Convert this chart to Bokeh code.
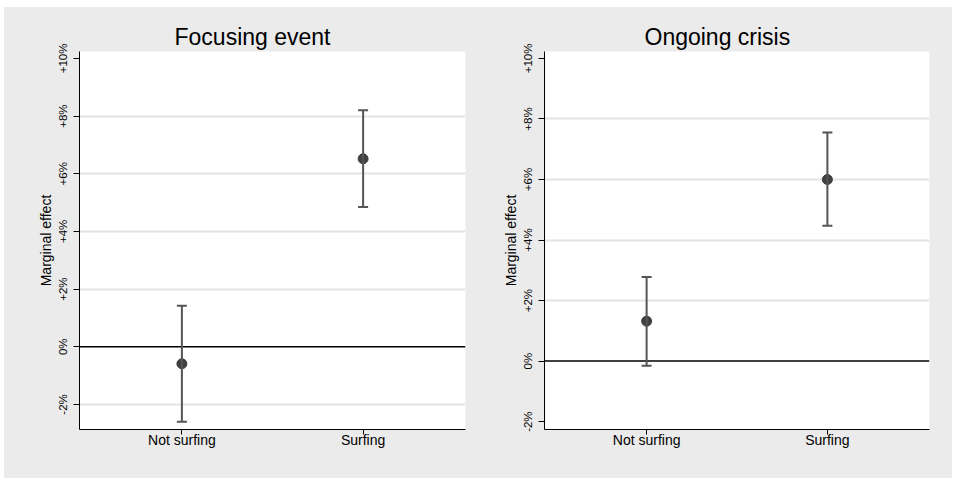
from bokeh.plotting import figure
from bokeh.models import ColumnDataSource, Range1d, FixedTicker, Whisker, TeeHead, Span
from bokeh.layouts import row
from bokeh.embed import file_html
from bokeh.resources import INLINE

categories = ["Not surfing", "Surfing"]

focus_est = [-0.59, 6.52]
focus_low = [-2.60, 4.85]
focus_high = [1.42, 8.20]

crisis_est = [1.32, 6.00]
crisis_low = [-0.15, 4.47]
crisis_high = [2.78, 7.55]

y_ticks = [-2, 0, 2, 4, 6, 8, 10]
y_tick_labels = ["-2%", "0%", "+2%", "+4%", "+6%", "+8%", "+10%"]

FONT = "Liberation Sans"
BAR = "#555555"
DOT = "#404040"
BG = "#ebebeb"


def make_panel(title, est, low, high, y_start, y_end, grid_ticks,
               border_left, frame_w, border_right, title_offset):
    xs = [i + 1 for i in range(len(categories))]
    src = ColumnDataSource(dict(x=xs, y=est, lower=low, upper=high))
    p = figure(frame_width=frame_w, frame_height=378,
               min_border_left=border_left, min_border_right=border_right,
               min_border_top=44, min_border_bottom=49,
               x_range=Range1d(0.435, 2.565), y_range=Range1d(y_start, y_end),
               output_backend="svg", toolbar_location=None,
               border_fill_color=BG, background_fill_color="white",
               outline_line_color=None)
    p.title.text = title
    p.title.align = "left"
    p.title.offset = title_offset
    p.title.text_font = FONT
    p.title.text_font_size = "23px"
    p.title.text_font_style = "normal"
    p.title.text_color = "black"
    p.title.standoff = 4

    # grid
    p.xgrid.visible = False
    p.ygrid.ticker = FixedTicker(ticks=grid_ticks)
    p.ygrid.grid_line_color = "#e4e4e4"
    p.ygrid.grid_line_width = 2

    # y axis
    ya = p.yaxis[0]
    ya.ticker = FixedTicker(ticks=y_ticks)
    ya.major_label_overrides = {t: l for t, l in zip(y_ticks, y_tick_labels)}
    ya.major_label_orientation = "vertical"
    ya.major_label_text_font = FONT
    ya.major_label_text_font_size = "11.5px"
    ya.major_label_text_color = "black"
    ya.major_label_standoff = 4
    ya.major_tick_out = 6
    ya.major_tick_in = 0
    ya.minor_tick_line_color = None
    ya.axis_line_color = "black"
    ya.major_tick_line_color = "black"
    ya.axis_label = "Marginal effect"
    ya.axis_label_text_font = FONT
    ya.axis_label_text_font_size = "14px"
    ya.axis_label_text_font_style = "normal"
    ya.axis_label_text_color = "black"
    ya.axis_label_standoff = 1

    # x axis
    xa = p.xaxis[0]
    xa.ticker = FixedTicker(ticks=xs)
    xa.major_label_overrides = {x: c for x, c in zip(xs, categories)}
    xa.major_label_text_font = FONT
    xa.major_label_text_font_size = "14px"
    xa.major_label_text_color = "black"
    xa.major_label_standoff = -3
    xa.major_tick_out = 5
    xa.major_tick_in = 0
    xa.minor_tick_line_color = None
    xa.axis_line_color = "black"
    xa.major_tick_line_color = "black"

    p.add_layout(Span(location=0, dimension="width", line_color="black",
                      line_width=1.5, level="underlay"))

    w = Whisker(base="x", lower="lower", upper="upper", source=src,
                line_color=BAR, line_width=2, level="glyph",
                upper_head=TeeHead(size=10, line_color=BAR, line_width=2),
                lower_head=TeeHead(size=10, line_color=BAR, line_width=2))
    p.add_layout(w)
    p.scatter("x", "y", source=src, size=10, fill_color=DOT, line_color=DOT)
    return p


p1 = make_panel("Focusing event", focus_est, focus_low, focus_high,
                -2.87, 10.24, [-2, 2, 4, 6, 8], 75, 386, 13, 95)
p2 = make_panel("Ongoing crisis", crisis_est, crisis_low, crisis_high,
                -2.26, 10.23, [2, 4, 6, 8], 66, 385, 23, 100)

layout = row(p1, p2, margin=(7, 0, 0, 4), styles={"background-color": BG})
open("out.html", "w").write(file_html(layout, INLINE))
